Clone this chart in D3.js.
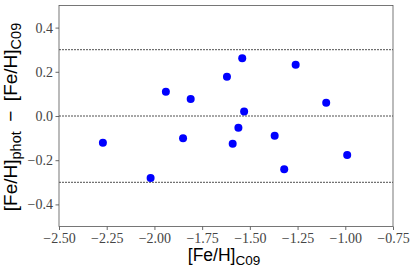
<!DOCTYPE html>
<html>
<head>
<meta charset="utf-8">
<script src="https://cdn.jsdelivr.net/npm/d3@7"></script>
<style>
  body { margin: 0; background: #fff; }
</style>
</head>
<body>
<div id="chart"></div>
<script>
// [Fe/H] from C09 vs photometric offset
var fehC09 = [-2.27, -2.02, -1.94, -1.85, -1.81, -1.62, -1.59, -1.56,
              -1.54, -1.53, -1.37, -1.32, -1.26, -1.10, -0.99];
var dFeh = [-0.121, -0.281, 0.110, -0.101, 0.077, 0.178, -0.125, -0.053,
            0.261, 0.020, -0.089, -0.241, 0.232, 0.060, -0.176];
var refLines = [0.3, 0.0, -0.3];
var xTicks = [-2.50, -2.25, -2.00, -1.75, -1.50, -1.25, -1.00, -0.75];
var yTicks = [-0.4, -0.2, 0.0, 0.2, 0.4];

var W = 416, H = 269;
var m = {left: 59, right: 23, top: 5.5, bottom: 42.5};

var svg = d3.select("#chart").append("svg")
    .attr("width", W).attr("height", H);

var x = d3.scaleLinear().domain([-2.5, -0.75]).range([m.left, W - m.right]);
var y = d3.scaleLinear().domain([-0.5, 0.5]).range([H - m.bottom, m.top]);

function minus(s) { return s.replace("-", "\u2212"); }

// reference lines
svg.selectAll(".ref")
    .data(refLines)
    .enter()
    .append("line")
    .attr("class", "ref")
    .attr("x1", x.range()[0]).attr("x2", x.range()[1])
    .attr("y1", function (d) { return y(d); })
    .attr("y2", function (d) { return y(d); })
    .attr("stroke", "#222")
    .attr("stroke-width", 0.8)
    .attr("stroke-dasharray", "2,1");

// points
svg.selectAll(".pt")
    .data(fehC09)
    .enter()
    .append("circle")
    .attr("class", "pt")
    .attr("cx", function (d) { return x(d); })
    .attr("cy", function (d, i) { return y(dFeh[i]); })
    .attr("r", 4)
    .attr("fill", "#0000ff");

// axes
var xAxis = svg.append("g")
    .attr("transform", "translate(0," + (H - m.bottom) + ")")
    .call(d3.axisBottom(x).tickValues(xTicks).tickSize(3.5).tickPadding(3)
        .tickFormat(function (d) { return minus(d3.format(".2f")(d)); }));
var yAxis = svg.append("g")
    .attr("transform", "translate(" + m.left + ",0)")
    .call(d3.axisLeft(y).tickValues(yTicks).tickSize(3.5).tickPadding(2.5)
        .tickFormat(function (d) { return minus(d3.format(".1f")(d)); }));

[xAxis, yAxis].forEach(function (g) {
    g.attr("font-family", "'Liberation Serif', serif");
    g.select(".domain").remove();
    g.selectAll(".tick line").attr("stroke", "#444").attr("stroke-width", 0.8);
    g.selectAll(".tick text")
        .attr("fill", "#444")
        .style("font-family", "'Liberation Serif', serif")
        .style("font-size", "14px");
});

// frame
svg.append("rect")
    .attr("x", m.left).attr("y", m.top)
    .attr("width", W - m.left - m.right)
    .attr("height", H - m.top - m.bottom)
    .attr("fill", "none")
    .attr("stroke", "#555")
    .attr("stroke-width", 0.8);

// axis labels
var xl = svg.append("text")
    .attr("x", 224).attr("y", 261)
    .attr("text-anchor", "middle")
    .style("font-family", "'Liberation Sans', sans-serif")
    .style("font-size", "17.5px");
xl.append("tspan").text("[Fe/H]");
xl.append("tspan").text("C09").attr("dy", 3.5).style("font-size", "13.5px");

var yl = svg.append("text")
    .attr("transform", "translate(17,117) rotate(-90)")
    .attr("text-anchor", "middle")
    .style("font-family", "'Liberation Sans', sans-serif")
    .style("font-size", "19px");
yl.append("tspan").text("[Fe/H]");
yl.append("tspan").text("phot").attr("dy", 4).style("font-size", "14.5px");
yl.append("tspan").text("\u2002\u2212\u2002[Fe/H]").attr("dy", -4);
yl.append("tspan").text("C09").attr("dy", 4).style("font-size", "14.5px");
</script>
</body>
</html>
